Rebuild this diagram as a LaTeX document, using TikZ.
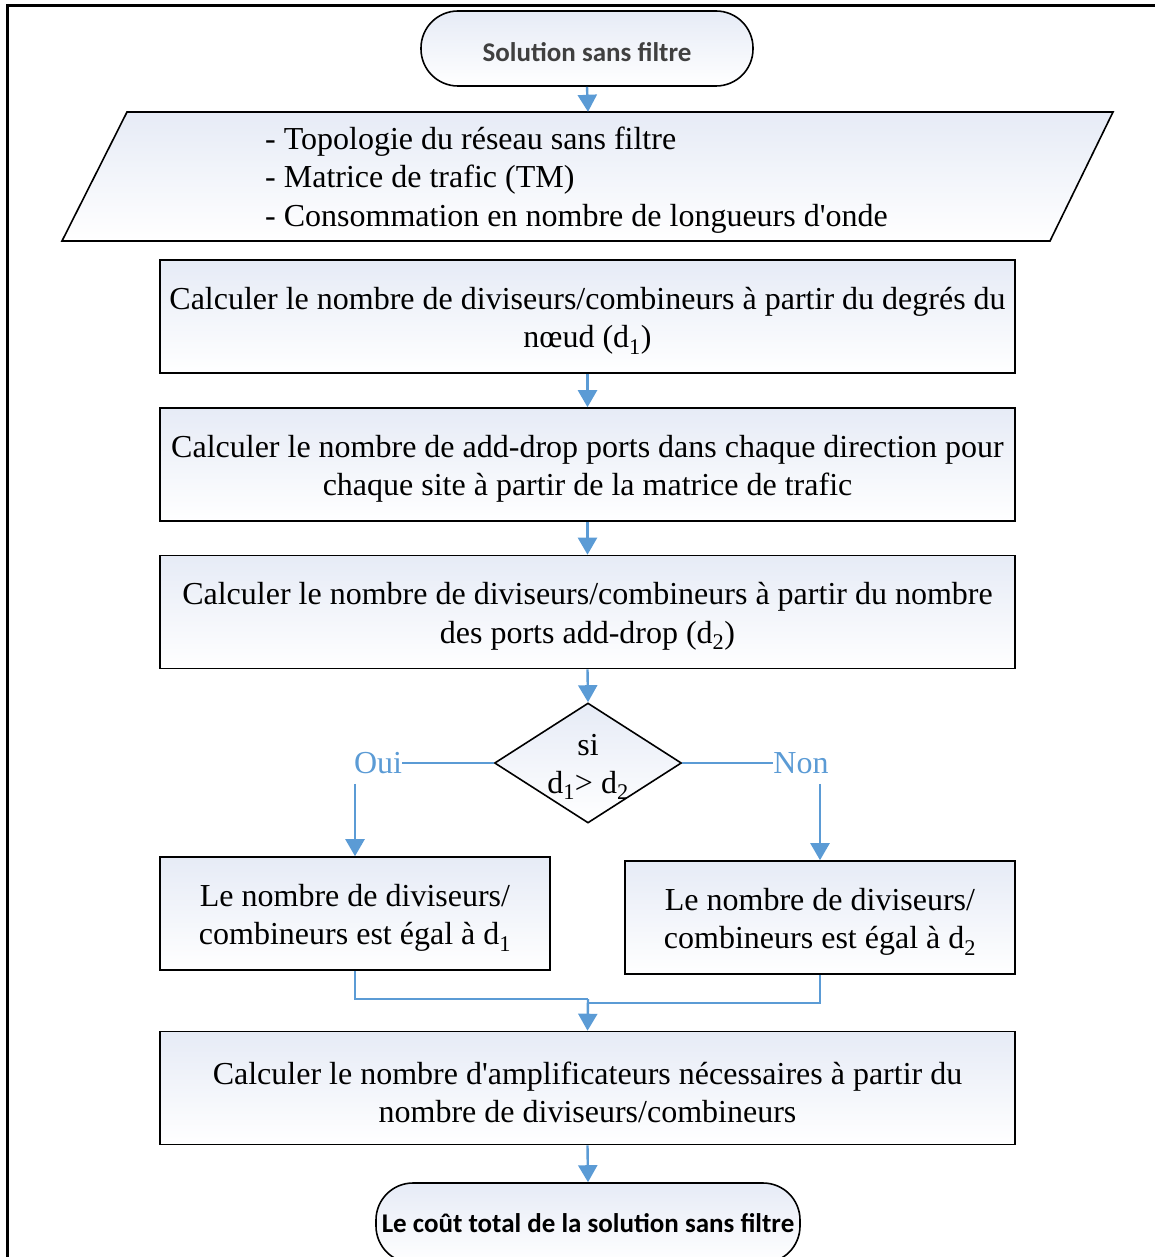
\documentclass[tikz,border=0pt]{standalone}
\usepackage{fontspec}
\setmainfont{Liberation Serif}
\newfontfamily\calib{Carlito}
\usetikzlibrary{shapes.geometric,arrows.meta,calc}
\definecolor{lb}{HTML}{5B9BD5}
\definecolor{topf}{HTML}{E6EBF6}
\definecolor{dg}{HTML}{404040}
\newcommand\upstrut{\rule{0pt}{31pt}}
\begin{document}
\begin{tikzpicture}[x=1pt,y=-1pt,
  fillgrad/.style={top color=topf,bottom color=white},
  procbox/.style={draw=black,line width=1.6pt,fillgrad,minimum width=855pt,minimum height=113pt,
    align=center,inner sep=0pt,font=\fontsize{32}{38.5}\selectfont},
  smallbox/.style={procbox,minimum width=390pt},
  term/.style={draw=black,line width=1.6pt,fillgrad,rounded corners=37pt,inner sep=0pt,
    font=\calib\bfseries\fontsize{27}{30}\selectfont},
  conn/.style={draw=lb,line width=2.4pt},
  arr/.style={conn,-{Triangle[length=17pt,width=19pt]}},
  lbl/.style={text=lb,font=\fontsize{32}{36}\selectfont,inner sep=0pt}]
\useasboundingbox (0,0) rectangle (1155,1257);
% frame
\draw[line width=3pt] (7,1300) -- (7,6) -- (1200,6);
% start terminator
\node[term,minimum width=332pt,minimum height=75pt,text=dg] (start) at (587,48.5) {\rule{0pt}{26pt}Solution sans filtre};
% input parallelogram
\path[fillgrad,draw=black,line width=1.6pt] (127,112) -- (1113,112) -- (1050,241) -- (62,241) -- cycle;
\node[minimum width=900pt,minimum height=129pt,inner sep=0pt] (inp) at (588,176.5) {};
\node[anchor=west,align=left,inner sep=0pt,font=\fontsize{32}{38.5}\selectfont] (inptxt) at (265,180)
  {- Topologie du réseau sans filtre\\- Matrice de trafic (TM)\\- Consommation en nombre de longueurs d\textquotesingle onde};
% process boxes
\node[procbox] (b1) at (587.5,316.5) {\upstrut Calculer le nombre de diviseurs/combineurs à partir du degrés du\\nœud (d\textsubscript{1})};
\node[procbox] (b2) at (587.5,464.5) {\upstrut Calculer le nombre de add-drop ports dans chaque direction pour\\chaque site à partir de la matrice de trafic};
\node[procbox] (b3) at (587.5,612) {\upstrut Calculer le nombre de diviseurs/combineurs à partir du nombre\\des ports add-drop (d\textsubscript{2})};
% decision
\node[diamond,draw=black,line width=1.6pt,fillgrad,minimum width=187pt,minimum height=120pt,inner sep=0pt] (dec) at (588,763) {};
\node[align=center,inner sep=0pt,font=\fontsize{32}{38}\selectfont] (dectxt) at (588,767) {si\\d\textsubscript{1}> d\textsubscript{2}};
\node[lbl] (oui) at (378,763) {Oui};
\node[lbl] (non) at (801,763) {Non};
% branch boxes
\node[smallbox] (bl) at (355,913.5) {\upstrut Le nombre de diviseurs/\\combineurs est égal à d\textsubscript{1}};
\node[smallbox] (br) at (820,917.5) {\upstrut Le nombre de diviseurs/\\combineurs est égal à d\textsubscript{2}};
% final boxes
\node[procbox] (b4) at (587.5,1088) {\upstrut Calculer le nombre d\textquotesingle amplificateurs nécessaires à partir du\\nombre de diviseurs/combineurs};
\node[term,minimum width=424pt,minimum height=80pt,text=black] (end) at (588,1223) {Le coût total de la solution sans filtre};
% connectors
\draw[arr] (start.south) -- (inp.north);
\draw[arr] (b1.south) -- (b2.north);
\draw[arr] (b2.south) -- (b3.north);
\draw[arr] (b3.south) -- (dec.north);
\draw[conn] (dec.west) -- (oui.east);
\draw[conn] (dec.east) -- (non.west);
\coordinate (ouiend) at ($(oui.south)+(0,10)$);
\coordinate (nonend) at ($(non.south)+(0,10)$);
\draw[arr] (bl.north |- ouiend) -- (bl.north);
\draw[arr] (br.north |- nonend) -- (br.north);
\coordinate (m1) at (588,999);
\coordinate (m2) at (588,1003);
\draw[conn] (bl.south) |- (m1);
\draw[conn] (br.south) |- (m2) -- (m1);
\draw[arr] (m1) -- (b4.north);
\draw[arr] (b4.south) -- (end.north);
\end{tikzpicture}
\end{document}
